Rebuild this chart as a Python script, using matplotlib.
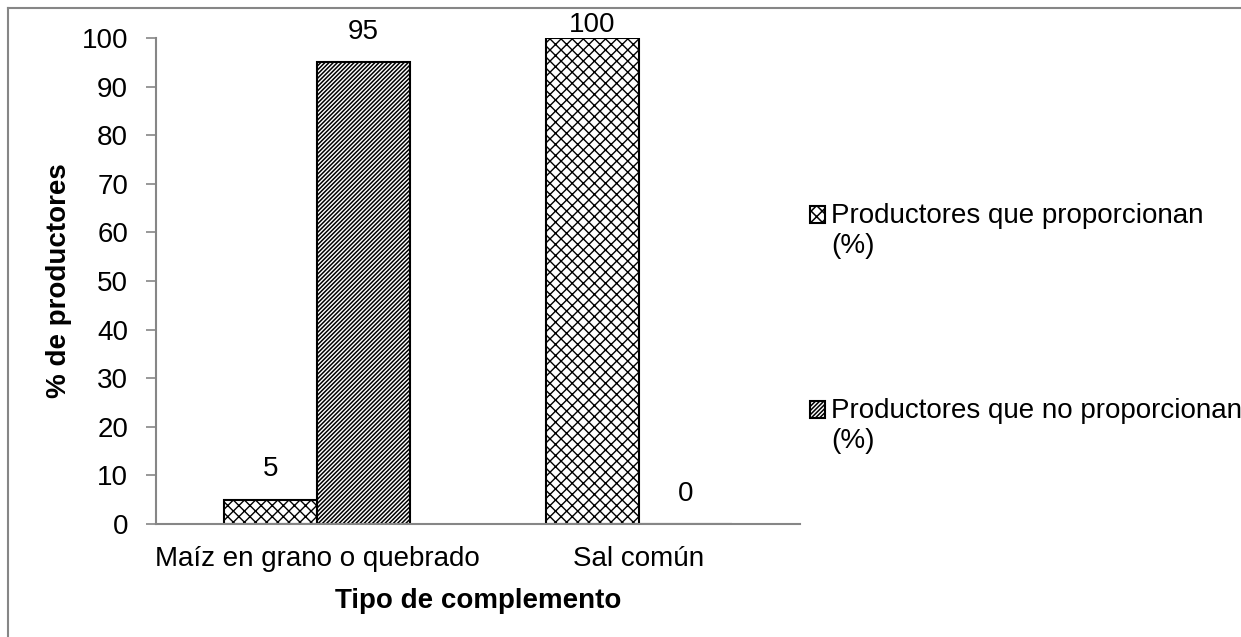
import numpy as np
import matplotlib
matplotlib.use("Agg")
import matplotlib.pyplot as plt
from matplotlib.patches import Rectangle
from matplotlib.container import BarContainer
from matplotlib.legend_handler import HandlerPatch, update_from_first_child

plt.rcParams['font.family'] = ['Liberation Sans', 'DejaVu Sans']

# data
categorias = ["Maíz en grano o quebrado", "Sal común"]
series = ["Productores que proporcionan\n(%)", "Productores que no proporcionan\n(%)"]
proporcionan = [5, 100]
no_proporcionan = [95, 0]
yticks = np.arange(0, 101, 10)

# styling
hatches = ["xxx", "////////"]
axis_grey = "#868686"
fs = 20

fig = plt.figure(figsize=(12.41, 6.37), dpi=100)
ax = fig.add_axes([156/1241, 1 - 524/637, 644/1241, 486/637])

x = np.arange(len(categorias))
w = 0.29

plt.rcParams['hatch.linewidth'] = 1.0
b1 = ax.bar(x - w/2, proporcionan, w, color="white", edgecolor="black",
            linewidth=1.5, hatch=hatches[0], label=series[0])
plt.rcParams['hatch.linewidth'] = 1.1
b2 = ax.bar(x + w/2, no_proporcionan, w, color="white", edgecolor="black",
            linewidth=1.5, hatch=hatches[1], label=series[1])

# data labels
for bars, vals in [(b1, proporcionan), (b2, no_proporcionan)]:
    for r, v in zip(bars, vals):
        off = 0 if v >= 100 else 12.5
        ax.annotate(str(v), (r.get_x() + r.get_width()/2, v),
                    textcoords="offset points", xytext=(0, off),
                    ha="center", va="bottom", fontsize=fs, clip_on=False)

ax.set_xlim(-0.5, 1.5)
ax.set_ylim(0, 100)
ax.set_yticks(yticks)
ax.tick_params(axis="y", labelsize=fs, length=7, width=1.2, color=axis_grey, pad=13)
ax.set_xticks(x)
ax.set_xticklabels(categorias)
ax.tick_params(axis="x", labelsize=fs, length=0, pad=16)

for s in ["top", "right"]:
    ax.spines[s].set_visible(False)
for s in ["left", "bottom"]:
    ax.spines[s].set_color(axis_grey)
    ax.spines[s].set_linewidth(1.5)

ax.set_xlabel("Tipo de complemento", fontsize=fs, fontweight="bold")
ax.xaxis.set_label_coords(0.5, -0.132)
ax.set_ylabel("% de productores", fontsize=fs, fontweight="bold")
ax.yaxis.set_label_coords(-0.130, 0.5)


# legend marker lined up with the first text line, like the original
def top_square(legend, orig_handle, xdescent, ydescent, width, height, fontsize):
    return Rectangle((-xdescent, -ydescent + 0.6 * fontsize), width, height)


fig.legend(loc="upper left", bbox_to_anchor=(810/1241, 1 - 203/637), frameon=False,
           fontsize=fs, labelspacing=5.0, handlelength=0.55, handleheight=0.55,
           handletextpad=0.2, borderpad=0, borderaxespad=0,
           handler_map={BarContainer: HandlerPatch(patch_func=top_square,
                                                   update_func=update_from_first_child)})

# outer chart border (clipped at right and bottom like the original)
fig.add_artist(plt.Line2D([8/1241, 8/1241], [0, 1 - 8/637], color=axis_grey, lw=1.5))
fig.add_artist(plt.Line2D([8/1241, 1], [1 - 8/637, 1 - 8/637], color=axis_grey, lw=1.5))

fig.savefig("out.png", dpi=100)
